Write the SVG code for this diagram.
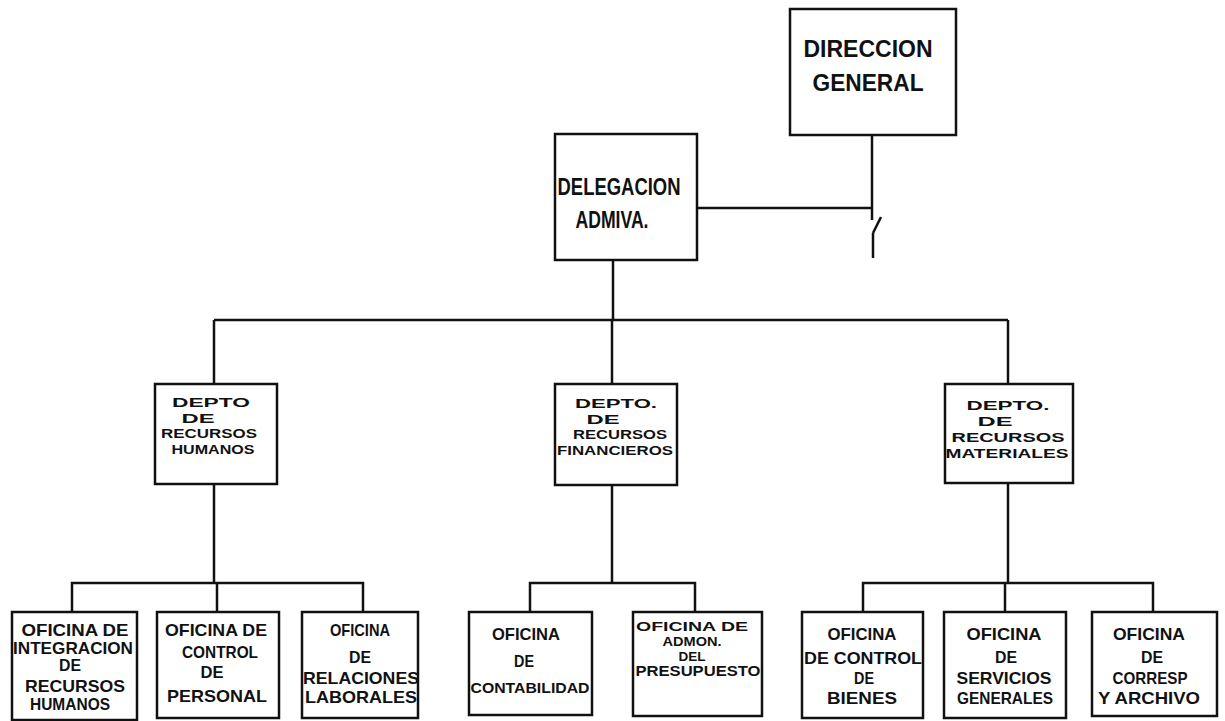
<svg xmlns="http://www.w3.org/2000/svg" width="1225" height="721" viewBox="0 0 1225 721">
<style>
.box{fill:#fff;stroke:#111;stroke-width:2.5}
.ln{fill:none;stroke:#111;stroke-width:2.5}
text{font-family:"Liberation Sans",Arial,sans-serif;font-weight:bold;fill:#111;text-anchor:middle}
.t1{font-size:23px}
.t2{font-size:16.5px}
.t3{font-size:15px}
.t4{font-size:12.5px}
.td{font-size:13.5px}
</style>
<rect width="1225" height="721" fill="#fff"/>
<g id="connectors">
<polyline class="ln" points="872,135 872,220"/>
<polyline class="ln" points="873,233 881,217"/>
<polyline class="ln" points="873,233 873,258"/>
<polyline class="ln" points="697,208 872,208"/>
<polyline class="ln" points="613,260 613,320"/>
<polyline class="ln" points="214,320 1008,320"/>
<polyline class="ln" points="214,320 214,384"/>
<polyline class="ln" points="612,320 612,384"/>
<polyline class="ln" points="1008,320 1008,384"/>
<polyline class="ln" points="214,484 214,583"/>
<polyline class="ln" points="612,484 612,583"/>
<polyline class="ln" points="1008,484 1008,583"/>
<polyline class="ln" points="72,612 72,583 363,583 363,612"/>
<polyline class="ln" points="217,583 217,612"/>
<polyline class="ln" points="530,612 530,583 695,583 695,612"/>
<polyline class="ln" points="863,612 863,583 1153,583 1153,612"/>
<polyline class="ln" points="1005,583 1005,612"/>
</g>
<g id="direccion">
<rect class="box" x="790" y="9" width="166" height="126"/>
<text class="t1" x="868" y="57" textLength="129" lengthAdjust="spacingAndGlyphs">DIRECCION</text>
<text class="t1" x="868" y="91" textLength="111" lengthAdjust="spacingAndGlyphs">GENERAL</text>
</g>
<g id="delegacion">
<rect class="box" x="555" y="134" width="142" height="126"/>
<text class="t1" x="619" y="195" textLength="123" lengthAdjust="spacingAndGlyphs">DELEGACION</text>
<text class="t1" x="612" y="228" textLength="73" lengthAdjust="spacingAndGlyphs">ADMIVA.</text>
</g>
<g id="depto-rh">
<rect class="box" x="155" y="384" width="122" height="100"/>
<text class="td" x="211" y="407" textLength="78" lengthAdjust="spacingAndGlyphs">DEPTO</text>
<text class="td" x="198" y="422.5" textLength="33" lengthAdjust="spacingAndGlyphs">DE</text>
<text class="td" x="209" y="438" textLength="96" lengthAdjust="spacingAndGlyphs">RECURSOS</text>
<text class="td" x="213" y="453.5" textLength="83" lengthAdjust="spacingAndGlyphs">HUMANOS</text>
</g>
<g id="depto-rf">
<rect class="box" x="555" y="384" width="122" height="101"/>
<text class="td" x="616" y="408" textLength="82" lengthAdjust="spacingAndGlyphs">DEPTO.</text>
<text class="td" x="603" y="423.5" textLength="33" lengthAdjust="spacingAndGlyphs">DE</text>
<text class="td" x="620" y="439" textLength="94" lengthAdjust="spacingAndGlyphs">RECURSOS</text>
<text class="td" x="615" y="454.5" textLength="116" lengthAdjust="spacingAndGlyphs">FINANCIEROS</text>
</g>
<g id="depto-rm">
<rect class="box" x="945" y="384" width="128" height="99"/>
<text class="td" x="1008" y="410" textLength="83" lengthAdjust="spacingAndGlyphs">DEPTO.</text>
<text class="td" x="995" y="426" textLength="35" lengthAdjust="spacingAndGlyphs">DE</text>
<text class="td" x="1008" y="442" textLength="113" lengthAdjust="spacingAndGlyphs">RECURSOS</text>
<text class="td" x="1007" y="458" textLength="123" lengthAdjust="spacingAndGlyphs">MATERIALES</text>
</g>
<g id="of-integracion">
<rect class="box" x="12" y="612" width="125" height="108"/>
<text class="t2" x="75" y="636" textLength="107" lengthAdjust="spacingAndGlyphs">OFICINA DE</text>
<text class="t2" x="73" y="654" textLength="120" lengthAdjust="spacingAndGlyphs">INTEGRACION</text>
<text class="t2" x="70" y="671" textLength="22" lengthAdjust="spacingAndGlyphs">DE</text>
<text class="t2" x="75" y="692" textLength="100" lengthAdjust="spacingAndGlyphs">RECURSOS</text>
<text class="t2" x="70" y="710" textLength="80" lengthAdjust="spacingAndGlyphs">HUMANOS</text>
</g>
<g id="of-control-personal">
<rect class="box" x="157" y="612" width="122" height="106"/>
<text class="t2" x="216" y="636" textLength="102" lengthAdjust="spacingAndGlyphs">OFICINA DE</text>
<text class="t2" x="220" y="658" textLength="76" lengthAdjust="spacingAndGlyphs">CONTROL</text>
<text class="t2" x="212" y="678" textLength="23" lengthAdjust="spacingAndGlyphs">DE</text>
<text class="t2" x="217" y="702" textLength="100" lengthAdjust="spacingAndGlyphs">PERSONAL</text>
</g>
<g id="of-relaciones">
<rect class="box" x="302" y="612" width="116" height="106"/>
<text class="t2" x="360" y="636" textLength="60" lengthAdjust="spacingAndGlyphs">OFICINA</text>
<text class="t2" x="360" y="663" textLength="22" lengthAdjust="spacingAndGlyphs">DE</text>
<text class="t2" x="361" y="684" textLength="116" lengthAdjust="spacingAndGlyphs">RELACIONES</text>
<text class="t2" x="361" y="703" textLength="112" lengthAdjust="spacingAndGlyphs">LABORALES</text>
</g>
<g id="of-contabilidad">
<rect class="box" x="469" y="612" width="123" height="103"/>
<text class="t2" x="526" y="640" textLength="68" lengthAdjust="spacingAndGlyphs">OFICINA</text>
<text class="t2" x="524" y="667" textLength="20" lengthAdjust="spacingAndGlyphs">DE</text>
<text class="t3" x="530" y="693" textLength="119" lengthAdjust="spacingAndGlyphs">CONTABILIDAD</text>
</g>
<g id="of-presupuesto">
<rect class="box" x="633" y="612" width="129" height="104"/>
<text class="t4" x="692" y="631" textLength="112" lengthAdjust="spacingAndGlyphs">OFICINA  DE</text>
<text class="t4" x="692" y="646" textLength="59" lengthAdjust="spacingAndGlyphs">ADMON.</text>
<text class="t4" x="692" y="661" textLength="27" lengthAdjust="spacingAndGlyphs">DEL</text>
<text class="t3" x="698" y="676" textLength="125" lengthAdjust="spacingAndGlyphs">PRESUPUESTO</text>
</g>
<g id="of-bienes">
<rect class="box" x="802" y="612" width="121" height="106"/>
<text class="t2" x="862" y="640" textLength="69" lengthAdjust="spacingAndGlyphs">OFICINA</text>
<text class="t2" x="863" y="664" textLength="118" lengthAdjust="spacingAndGlyphs">DE CONTROL</text>
<text class="t2" x="864" y="684" textLength="20" lengthAdjust="spacingAndGlyphs">DE</text>
<text class="t2" x="862" y="704" textLength="70" lengthAdjust="spacingAndGlyphs">BIENES</text>
</g>
<g id="of-servicios">
<rect class="box" x="944" y="612" width="122" height="106"/>
<text class="t2" x="1004" y="640" textLength="75" lengthAdjust="spacingAndGlyphs">OFICINA</text>
<text class="t2" x="1006" y="663" textLength="22" lengthAdjust="spacingAndGlyphs">DE</text>
<text class="t2" x="1004" y="684" textLength="95" lengthAdjust="spacingAndGlyphs">SERVICIOS</text>
<text class="t2" x="1005" y="704" textLength="96" lengthAdjust="spacingAndGlyphs">GENERALES</text>
</g>
<g id="of-correspondencia">
<rect class="box" x="1092" y="612" width="125" height="104"/>
<text class="t2" x="1149" y="640" textLength="72" lengthAdjust="spacingAndGlyphs">OFICINA</text>
<text class="t2" x="1152" y="663" textLength="22" lengthAdjust="spacingAndGlyphs">DE</text>
<text class="t2" x="1150" y="684" textLength="75" lengthAdjust="spacingAndGlyphs">CORRESP</text>
<text class="t2" x="1149" y="704" textLength="102" lengthAdjust="spacingAndGlyphs">Y ARCHIVO</text>
</g>
</svg>
